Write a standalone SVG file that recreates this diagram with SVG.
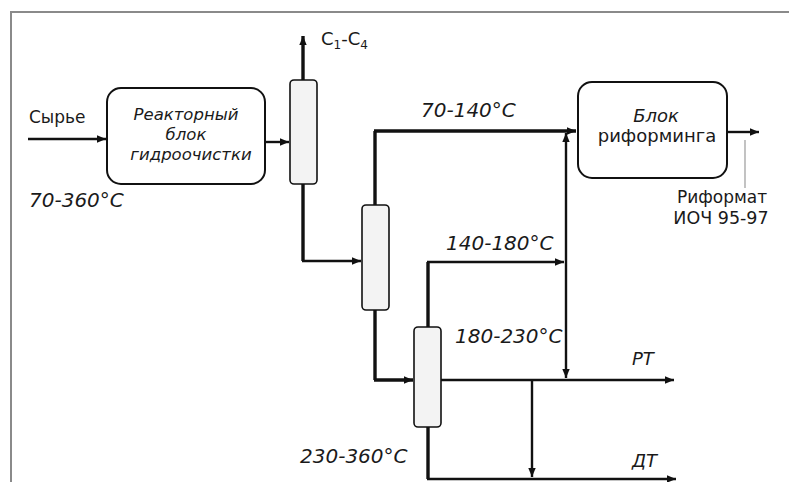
<svg xmlns="http://www.w3.org/2000/svg" width="789" height="482" viewBox="0 0 789 482">
<style>
.frame{stroke:#8a8a8a;stroke-width:2;fill:none}
.box{fill:#fff;stroke:#111;stroke-width:2}
.col{fill:#f3f3f3;stroke:#111;stroke-width:1.6}
.ln{fill:none;stroke:#111;stroke-width:2.4}
.thk{fill:none;stroke:#111;stroke-width:3.4}
.thin{fill:none;stroke:#9a9a9a;stroke-width:1.2}
text{font-family:"DejaVu Sans","Liberation Sans",sans-serif;fill:#1a1a1a}
.it{font-style:italic}
</style>
<defs>
<marker id="ah" markerUnits="userSpaceOnUse" markerWidth="10" markerHeight="10" viewBox="0 0 10 10" refX="9" refY="5" orient="auto">
<path d="M0,1.3 L9,5 L0,8.7 Z" fill="#111"/>
</marker>
</defs>
<rect width="789" height="482" fill="#fff"/>
<g id="frame">
<path class="frame" d="M11,482 V12 H789"/>
</g>
<g id="connectors">
<path class="ln" d="M28,139 H106" marker-end="url(#ah)"/>
<path class="ln" d="M265,142 H289" marker-end="url(#ah)"/>
<path class="thk" d="M303,80 V36" marker-end="url(#ah)"/>
<path class="thk" d="M303,184 V261"/>
<path class="ln" d="M302,261 H361" marker-end="url(#ah)"/>
<path class="thk" d="M375,205 V131"/>
<path class="thk" d="M374,131 H576" marker-end="url(#ah)"/>
<path class="ln" d="M727,132 H759" marker-end="url(#ah)"/>
<path class="thin" d="M745,140 V188"/>
<path class="thk" d="M428,327 V262"/>
<path class="ln" d="M427,262 H564" marker-end="url(#ah)"/>
<path class="ln" d="M566,300 V133" marker-end="url(#ah)"/>
<path class="ln" d="M566,300 V378" marker-end="url(#ah)"/>
<path class="thk" d="M375,310 V380"/>
<path class="thk" d="M374,380 H413" marker-end="url(#ah)"/>
<path class="ln" d="M441,380 H674" marker-end="url(#ah)"/>
<path class="ln" d="M532,380 V477" marker-end="url(#ah)"/>
<path class="thk" d="M428,427 V479"/>
<path class="ln" d="M427,479 H676" marker-end="url(#ah)"/>
</g>
<g id="reactor">
<rect class="box" x="107" y="88" width="158" height="96" rx="14"/>
<text class="it" x="186" y="120" font-size="16.5" text-anchor="middle">Реакторный</text>
<text class="it" x="186" y="140" font-size="16.5" text-anchor="middle">блок</text>
<text class="it" x="191" y="160" font-size="16.5" text-anchor="middle">гидроочистки</text>
</g>
<g id="column1">
<rect class="col" x="290" y="80" width="27" height="104" rx="4"/>
</g>
<g id="column2">
<rect class="col" x="362" y="205" width="27" height="105" rx="4"/>
</g>
<g id="column3">
<rect class="col" x="414" y="327" width="27" height="100" rx="4"/>
</g>
<g id="reformer">
<rect class="box" x="578" y="82" width="149" height="96" rx="14"/>
<text class="it" x="656" y="122" font-size="18" text-anchor="middle">Блок</text>
<text x="657" y="142" font-size="18" text-anchor="middle">риформинга</text>
</g>
<g id="labels">
<text x="29" y="123" font-size="17">Сырье</text>
<text class="it" x="29" y="207" font-size="20">70-360°C</text>
<text x="321" y="45" font-size="18">C<tspan font-size="12" dy="4">1</tspan><tspan dy="-4">-C</tspan><tspan font-size="12" dy="4">4</tspan></text>
<text class="it" x="421" y="117" font-size="20">70-140°C</text>
<text x="722" y="203" font-size="17" text-anchor="middle">Риформат</text>
<text x="721" y="224" font-size="17.5" text-anchor="middle">ИОЧ 95-97</text>
<text class="it" x="446" y="250" font-size="20">140-180°C</text>
<text class="it" x="455" y="343" font-size="20">180-230°C</text>
<text class="it" x="632" y="365" font-size="18">РТ</text>
<text class="it" x="300" y="463" font-size="20">230-360°C</text>
<text class="it" x="632" y="467" font-size="18">ДТ</text>
</g>
</svg>
